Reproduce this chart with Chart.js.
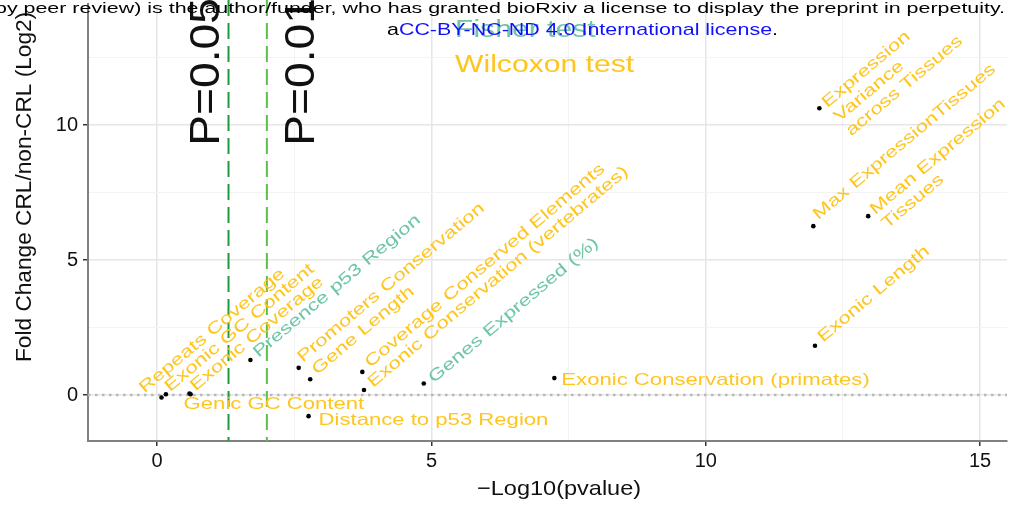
<!DOCTYPE html>
<html>
<head>
<meta charset="utf-8">
<script src="https://cdn.jsdelivr.net/npm/chart.js@4.4.1/dist/chart.umd.min.js"></script>
<style>
  body { margin: 0; background: #fff; }
  #wrap { width: 1011px; height: 506px; }
</style>
</head>
<body>
<div id="wrap"><canvas id="graph" width="1011" height="506"></canvas></div>
<script>
// features, -log10(p), log2 fold change, test used
var names = ["Repeats Coverage", "Exonic GC Content", "Exonic Coverage", "Genic GC Content",
  "Presence p53 Region", "Promoters Conservation", "Gene Length", "Coverage Conserved Elements",
  "Exonic Conservation (vertebrates)", "Genes Expressed (%)", "Distance to p53 Region",
  "Exonic Conservation (primates)", "Exonic Length", "Max ExpressionTissues",
  "Mean Expression\nTissues", "Expression\nVariance\nacross Tissues"];
var pvals = [0.08, 0.16, 0.59, 0.61, 1.70, 2.58, 2.79, 3.74, 3.77, 4.86, 2.76, 7.24, 11.99, 11.96, 12.96, 12.07];
var folds = [-0.09, 0.03, 0.06, 0.03, 1.30, 1.01, 0.59, 0.86, 0.19, 0.43, -0.78, 0.63, 1.83, 6.26, 6.63, 10.63];
var tests = ["W", "W", "W", "W", "F", "W", "W", "W", "W", "F", "W", "W", "W", "W", "W", "W"];

var xTicks = [0, 5, 10, 15];
var xMinor = [2.5, 7.5, 12.5];
var yTicks = [0, 5, 10];
var yMinor = [2.5, 7.5, 12.5];

var cutoffs = [1.301, 2];
var cutoffLabels = ["P=0.05", "P=0.01"];
var legendNames = ["Fisher test", "Wilcoxon test"];

var colW = "#FFC51F";
var colF = "#6DC6A4";

// label placement (pixel offsets from the point, rotation)
var labelLayout = [
  [-17, -4, 40], [4, -2, 40], [6, -2, 40], [-7, 10, 0],
  [8, -2, 40], [4, -5, 40], [7, -4, 40], [8, -4, 40],
  [9, -2, 40], [10, 0, 40], [10, 4, 0],
  [7, 2, 0], [8, -3, 40], [5, -6, 40],
  [7, -1, 40], [8, 0, 40]
];

var FONT = "'Liberation Sans', Arial, sans-serif";

function drawText(ctx, lines, x, y, size, color, angle, sx, baseline, lh) {
  ctx.save();
  ctx.translate(x, y);
  ctx.rotate(-angle * Math.PI / 180);
  ctx.scale(sx, 1);
  ctx.font = size + "px " + FONT;
  ctx.fillStyle = color;
  ctx.textAlign = "left";
  ctx.textBaseline = baseline || "alphabetic";
  for (var i = 0; i < lines.length; i++) {
    ctx.fillText(lines[i], 0, i * (lh || size * 1.15));
  }
  ctx.restore();
}

var points = pvals.map(function (v, i) { return { x: v, y: folds[i] }; });

var decor = {
  id: "decor",
  beforeDatasetsDraw: function (chart) {
    var ctx = chart.ctx, xs = chart.scales.x, ys = chart.scales.y, a = chart.chartArea;
    ctx.save();
    // zero line
    var y0 = ys.getPixelForValue(0);
    ctx.strokeStyle = "#b8b8b8";
    ctx.lineWidth = 2.5;
    ctx.setLineDash([2.5, 4.5]);
    ctx.beginPath(); ctx.moveTo(a.left, y0); ctx.lineTo(a.right, y0); ctx.stroke();
    // significance cut-offs
    var cc = ["#1f9a3e", "#5cbf4a"];
    ctx.lineWidth = 2;
    ctx.setLineDash([16, 7]);
    cutoffs.forEach(function (c, i) {
      var px = xs.getPixelForValue(c);
      ctx.strokeStyle = cc[i];
      ctx.beginPath(); ctx.moveTo(px, 0); ctx.lineTo(px, a.bottom); ctx.stroke();
    });
    ctx.restore();
  },
  afterDatasetsDraw: function (chart) {
    var ctx = chart.ctx, xs = chart.scales.x, ys = chart.scales.y;
    names.forEach(function (n, i) {
      var px = xs.getPixelForValue(pvals[i]);
      var py = ys.getPixelForValue(folds[i]);
      var L = labelLayout[i];
      var col = tests[i] === "F" ? colF : colW;
      drawText(ctx, n.split("\n"), px + L[0], py + L[1], 16.5, col, L[2], 1.34,
        L[2] === 0 ? "middle" : "alphabetic", 18.5);
    });
  },
  afterDraw: function (chart) {
    var ctx = chart.ctx, xs = chart.scales.x, ys = chart.scales.y;
    // cut-off labels
    var off = [-10, 47];
    cutoffs.forEach(function (c, i) {
      var px = xs.getPixelForValue(c) + off[i];
      drawText(ctx, [cutoffLabels[i]], px, ys.getPixelForValue(9.24), 42, "#111", 90, 1.1);
    });
    // axis titles
    drawText(ctx, ["Fold Change CRL/non-CRL (Log2)"], 31, 362, 22, "#111", 90, 1.03);
    drawText(ctx, ["\u2212Log10(pvalue)"], 477, 495, 21, "#111", 0, 1.12);
    // legend texts
    drawText(ctx, [legendNames[0]], 455, 37, 23, colF, 0, 1.31);
    drawText(ctx, [legendNames[1]], 455, 72, 23, colW, 0, 1.31);
    // overlaid preprint notice
    ctx.save();
    ctx.font = "14px " + FONT;
    var top = "by peer review) is the author/funder, who has granted bioRxiv a license to display the preprint in perpetuity.";
    var w = ctx.measureText(top).width;
    ctx.restore();
    drawText(ctx, [top], -5, 13, 14, "#000", 0, 1010 / w);
    ctx.save();
    ctx.font = "17px " + FONT;
    var p1 = "a", p2 = "CC-BY-NC-ND 4.0 International license", p3 = ".";
    var w1 = ctx.measureText(p1).width, w2 = ctx.measureText(p2).width, w3 = ctx.measureText(p3).width;
    ctx.restore();
    var s = 391 / (w1 + w2 + w3);
    drawText(ctx, [p1], 387, 35, 17, "#000", 0, s);
    drawText(ctx, [p2], 387 + w1 * s, 35, 17, "#1010ff", 0, s);
    drawText(ctx, [p3], 387 + (w1 + w2) * s, 35, 17, "#000", 0, s);
  }
};

function isMajor(v, list) { return list.indexOf(v) >= 0; }

function noPad(s) {
  s.paddingTop = 0; s.paddingBottom = 0; s.paddingLeft = 0; s.paddingRight = 0;
}

new Chart(document.getElementById("graph").getContext("2d"), {
  type: "scatter",
  data: {
    datasets: [{
      data: points,
      backgroundColor: "#000",
      borderWidth: 0,
      pointRadius: 2.3
    }]
  },
  options: {
    responsive: false,
    animation: false,
    layout: { padding: 0 },
    plugins: { legend: { display: false }, tooltip: { enabled: false } },
    scales: {
      x: {
        type: "linear",
        min: -1.26,
        max: 15.49,
        afterBuildTicks: function (s) {
          s.ticks = xTicks.concat(xMinor).sort(function (a, b) { return a - b; })
            .map(function (v) { return { value: v }; });
        },
        afterFit: function (s) { s.height = 65; noPad(s); },
        ticks: {
          autoSkip: false,
          maxRotation: 0,
          padding: 3,
          color: "#111",
          font: { family: FONT, size: 20 },
          callback: function (v) { return isMajor(v, xTicks) ? String(v) : ""; }
        },
        grid: {
          lineWidth: function (c) { return c.tick && isMajor(c.tick.value, xTicks) ? 1.5 : 1; },
          color: function (c) { return c.tick && isMajor(c.tick.value, xTicks) ? "#e6e6e6" : "#f3f3f3"; },
          tickColor: function (c) { return c.tick && isMajor(c.tick.value, xTicks) ? "#333" : "rgba(0,0,0,0)"; },
          tickLength: 5
        },
        border: { color: "#808080", width: 2 }
      },
      y: {
        type: "linear",
        min: -1.70,
        max: 14.49,
        afterBuildTicks: function (s) {
          s.ticks = yTicks.concat(yMinor).sort(function (a, b) { return a - b; })
            .map(function (v) { return { value: v }; });
        },
        afterFit: function (s) { s.width = 88; noPad(s); },
        ticks: {
          autoSkip: false,
          padding: 5,
          color: "#111",
          font: { family: FONT, size: 20 },
          callback: function (v) { return isMajor(v, yTicks) ? String(v) : ""; }
        },
        grid: {
          lineWidth: function (c) { return c.tick && isMajor(c.tick.value, yTicks) ? 1.5 : 1; },
          color: function (c) { return c.tick && isMajor(c.tick.value, yTicks) ? "#e6e6e6" : "#f3f3f3"; },
          tickColor: function (c) { return c.tick && isMajor(c.tick.value, yTicks) ? "#333" : "rgba(0,0,0,0)"; },
          tickLength: 5
        },
        border: { color: "#808080", width: 2 }
      }
    }
  },
  plugins: [decor]
});
</script>
</body>
</html>
